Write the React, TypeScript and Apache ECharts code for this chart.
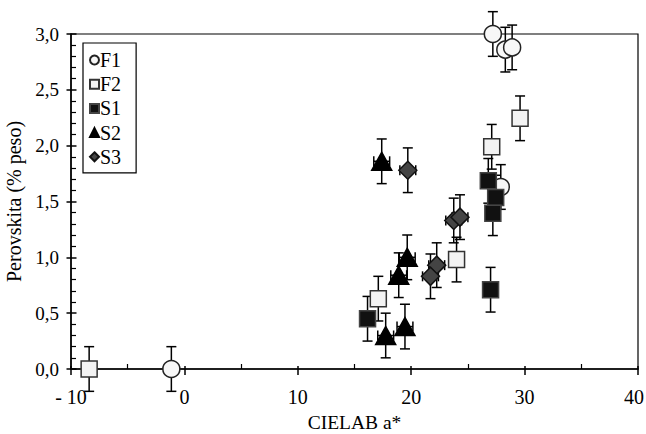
import React, { useEffect, useRef } from "react";
import * as echarts from "echarts";

// F1 (open circles)
const f1X = [-1.15, 27.2, 28.3, 28.9, 27.9];
const f1Y = [0.0, 3.0, 2.86, 2.88, 1.63];
const f1XErr = [0, 0, 0, 0, 0];
const f1YErr = [0.2, 0.2, 0.2, 0.2, 0.2];
// F2 (open squares)
const f2X = [-8.4, 17.1, 24.0, 27.1, 29.6];
const f2Y = [0.0, 0.63, 0.98, 1.99, 2.245];
const f2XErr = [0, 0, 0, 0, 0];
const f2YErr = [0.2, 0.2, 0.2, 0.2, 0.2];
// S1 (filled squares)
const s1X = [16.15, 27.0, 26.8, 27.45, 27.2];
const s1Y = [0.45, 0.71, 1.685, 1.535, 1.395];
const s1XErr = [0, 0, 0, 0, 0];
const s1YErr = [0.2, 0.2, 0.2, 0.2, 0.2];
// S2 (filled triangles)
const s2X = [17.4, 19.65, 18.9, 17.75, 19.45];
const s2Y = [1.86, 1.0, 0.84, 0.3, 0.38];
const s2XErr = [0.7, 0.7, 0.7, 0.7, 0.7];
const s2YErr = [0.2, 0.2, 0.2, 0.2, 0.2];
// S3 (grey diamonds)
const s3X = [19.7, 23.75, 24.3, 22.25, 21.7];
const s3Y = [1.78, 1.33, 1.36, 0.93, 0.83];
const s3XErr = [0.7, 0.7, 0.7, 0.7, 0.7];
const s3YErr = [0.2, 0.2, 0.2, 0.2, 0.2];

const seriesNames = ["F1", "F2", "S1", "S2", "S3"];
const xTicks = [-10, 0, 10, 20, 30, 40];
const yTicks = [0, 0.5, 1.0, 1.5, 2.0, 2.5, 3.0];

const FONT = "Liberation Serif";

export default function App() {
  const ref = useRef<HTMLDivElement>(null);

  useEffect(() => {
    if (!ref.current) return;
    const chart = echarts.init(ref.current, null, { renderer: "svg" });

    const groups = [
      { name: "F1", x: f1X, y: f1Y, ex: f1XErr, ey: f1YErr, symbol: "circle", size: 17, fill: "#f7f7f7", stroke: "#222" },
      { name: "F2", x: f2X, y: f2Y, ex: f2XErr, ey: f2YErr, symbol: "rect", size: 16, fill: "#f3f3f3", stroke: "#333" },
      { name: "S1", x: s1X, y: s1Y, ex: s1XErr, ey: s1YErr, symbol: "rect", size: 16, fill: "#111", stroke: "#444" },
      { name: "S2", x: s2X, y: s2Y, ex: s2XErr, ey: s2YErr, symbol: "triangle", size: [20, 18], fill: "#000", stroke: "#000" },
      { name: "S3", x: s3X, y: s3Y, ex: s3XErr, ey: s3YErr, symbol: "diamond", size: [18, 18], fill: "#444", stroke: "#111" },
    ];

    const errData: number[][] = [];
    groups.forEach((g) => {
      g.x.forEach((xv, i) => errData.push([xv, g.y[i], g.ex[i], g.ey[i]]));
    });

    const scatterSeries = groups.map((g, gi) => ({
      type: "scatter",
      name: g.name,
      xAxisIndex: 0,
      yAxisIndex: 0,
      symbol: g.symbol,
      symbolSize: g.size,
      data: g.x.map((xv, i) => [xv, g.y[i]]),
      itemStyle: { color: g.fill, borderColor: g.stroke, borderWidth: 1.5, opacity: 1 },
      z: 3 + gi,
      clip: false,
      emphasis: { disabled: true },
    }));

    const cap = 5;
    const errSeries = {
      type: "custom",
      name: "err",
      xAxisIndex: 0,
      yAxisIndex: 0,
      z: 2,
      clip: false,
      encode: { x: 0, y: 1 },
      data: errData,
      renderItem: (params: any, api: any) => {
        const x = api.value(0);
        const y = api.value(1);
        const ex = api.value(2);
        const ey = api.value(3);
        const c = api.coord([x, y]);
        const top = api.coord([x, y + ey]);
        const bot = api.coord([x, y - ey]);
        const st = { stroke: "#000", lineWidth: 1.5 };
        const children: any[] = [
          { type: "line", shape: { x1: c[0], y1: top[1], x2: c[0], y2: bot[1] }, style: st },
          { type: "line", shape: { x1: c[0] - cap, y1: top[1], x2: c[0] + cap, y2: top[1] }, style: st },
          { type: "line", shape: { x1: c[0] - cap, y1: bot[1], x2: c[0] + cap, y2: bot[1] }, style: st },
        ];
        if (ex > 0) {
          const l = api.coord([x - ex, y]);
          const r = api.coord([x + ex, y]);
          children.push(
            { type: "line", shape: { x1: l[0], y1: c[1], x2: r[0], y2: c[1] }, style: st },
            { type: "line", shape: { x1: l[0], y1: c[1] - cap, x2: l[0], y2: c[1] + cap }, style: st },
            { type: "line", shape: { x1: r[0], y1: c[1] - cap, x2: r[0], y2: c[1] + cap }, style: st }
          );
        }
        return { type: "group", children };
      },
    };

    const xMin = xTicks[0];
    const xMax = xTicks[xTicks.length - 1];
    const yMin = yTicks[0];
    const yMax = yTicks[yTicks.length - 1];

    chart.setOption({
      animation: false,
      backgroundColor: "#fff",
      textStyle: { fontFamily: FONT },
      grid: {
        left: 71,
        right: 8,
        top: 34,
        bottom: 65,
        show: true,
        borderColor: "#000",
        borderWidth: 1.2,
        backgroundColor: "transparent",
        containLabel: false,
        outerBoundsMode: "none",
      },
      legend: {
        data: seriesNames,
        orient: "vertical",
        left: 83,
        top: 43,
        borderColor: "#000",
        borderWidth: 1.2,
        backgroundColor: "#fff",
        padding: [7, 15, 6, 6],
        itemWidth: 9,
        itemHeight: 9,
        itemGap: 4.2,
        selectedMode: false,
        textStyle: { fontFamily: FONT, fontSize: 20, color: "#000", padding: [0, 0, 0, -4] },
      },
      xAxis: [
        {
          type: "value",
          position: "bottom",
          min: xMin,
          max: xMax,
          interval: 10,
          name: "CIELAB a*",
          nameLocation: "middle",
          nameGap: 45,
          nameTextStyle: { fontFamily: FONT, fontSize: 19.5, lineHeight: 16, color: "#000" },
          axisLine: { show: true, onZero: false, lineStyle: { color: "#000", width: 1.5 } },
          axisTick: { show: true, inside: false, length: 6, lineStyle: { color: "#000", width: 1.5 } },
          axisLabel: {
            fontFamily: FONT,
            fontSize: 20,
            color: "#000",
            margin: 18,
            formatter: (v: number) =>
              v === xMax ? "{r|" + v + "}" : v < 0 ? "- " + Math.abs(v) : String(v),
            rich: {
              r: { fontFamily: FONT, fontSize: 20, color: "#000", padding: [0, 8, 0, 0] },
            },
          },
          splitLine: { show: false },
        },
        {
          type: "value",
          position: "bottom",
          min: xMin,
          max: xMax,
          interval: 10,
          axisLine: { show: false, onZero: false },
          axisTick: { show: true, inside: true, length: 3, lineStyle: { color: "#000", width: 1.5 } },
          minorTick: { show: true, splitNumber: 2, length: 5, lineStyle: { color: "#000", width: 1.2 } },
          axisLabel: { show: false },
          splitLine: { show: false },
        },
      ],
      yAxis: [
        {
          type: "value",
          position: "left",
          min: yMin,
          max: yMax,
          interval: 0.5,
          name: "Perovskita (% peso)",
          nameLocation: "middle",
          nameGap: 37,
          nameTextStyle: { fontFamily: FONT, fontSize: 20, color: "#000" },
          axisLine: { show: true, onZero: false, lineStyle: { color: "#000", width: 1.5 } },
          axisTick: { show: true, inside: false, length: 4.5, lineStyle: { color: "#000", width: 1.5 } },
          axisLabel: {
            fontFamily: FONT,
            fontSize: 19,
            color: "#000",
            margin: 12,
            formatter: (v: number) => v.toFixed(1).replace(".", ","),
          },
          splitLine: { show: false },
        },
        {
          type: "value",
          position: "left",
          min: yMin,
          max: yMax,
          interval: 0.5,
          axisLine: { show: false, onZero: false },
          axisTick: { show: true, inside: true, length: 5.5, lineStyle: { color: "#000", width: 1.5 } },
          minorTick: { show: true, splitNumber: 5, length: 5, lineStyle: { color: "#000", width: 1.2 } },
          axisLabel: { show: false },
          splitLine: { show: false },
        },
      ],
      series: [errSeries, ...scatterSeries],
    });

    return () => chart.dispose();
  }, []);

  return (
    <div
      ref={ref}
      style={{ position: "fixed", left: 0, top: 0, width: 646, height: 434, background: "#fff" }}
    />
  );
}
